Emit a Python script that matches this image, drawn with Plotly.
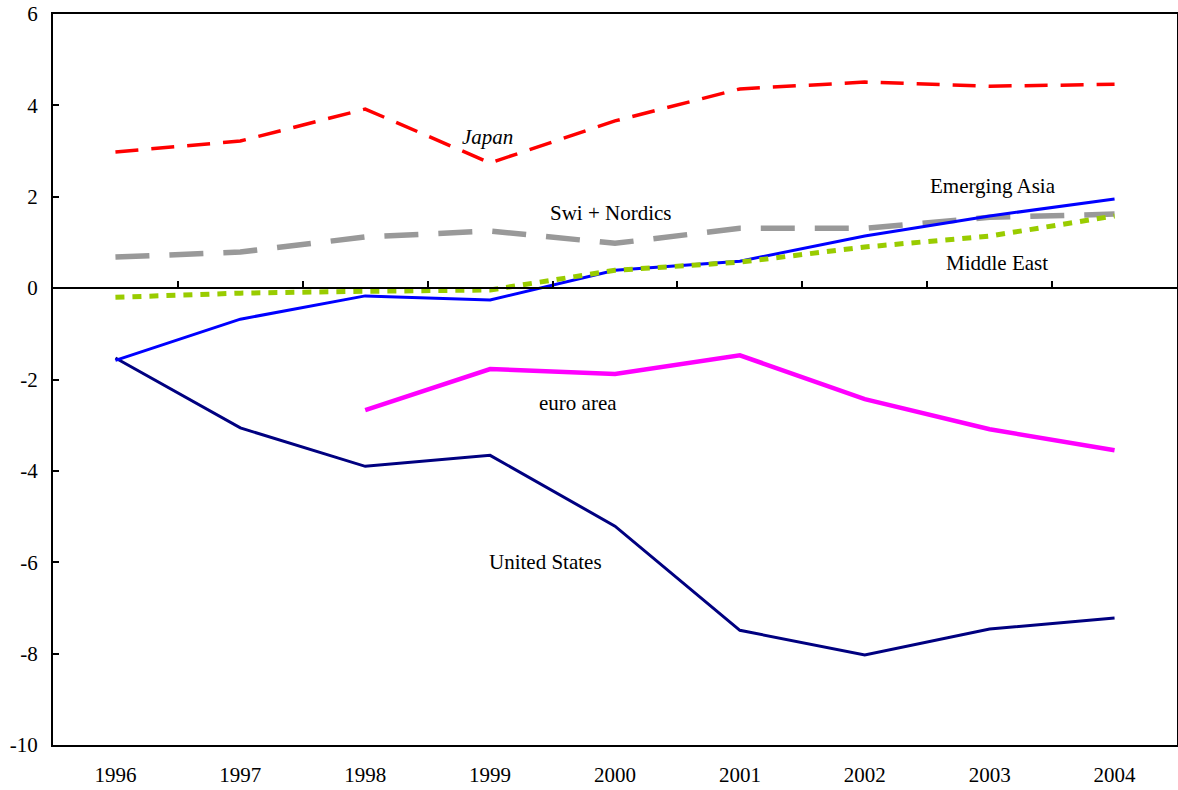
import plotly.graph_objects as go

YEARS = ["1996", "1997", "1998", "1999", "2000", "2001", "2002", "2003", "2004"]
JAPAN = [2.98, 3.22, 3.92, 2.74, 3.66, 4.36, 4.51, 4.42, 4.46]
SWI_NORDICS = [0.68, 0.79, 1.12, 1.25, 0.98, 1.31, 1.31, 1.55, 1.62]
MIDDLE_EAST = [-0.20, -0.11, -0.07, -0.04, 0.39, 0.57, 0.90, 1.14, 1.58]
EMERGING_ASIA = [-1.58, -0.68, -0.17, -0.26, 0.39, 0.59, 1.14, 1.58, 1.95]
EURO_AREA = [None, None, -2.67, -1.77, -1.88, -1.47, -2.43, -3.09, -3.55]
UNITED_STATES = [-1.53, -3.06, -3.90, -3.66, -5.21, -7.49, -8.03, -7.46, -7.22]
Y_TICKS = [-10, -8, -6, -4, -2, 0, 2, 4, 6]
Y_TICK_TEXT = ["-10", "-8", "-6", "-4", "-2", "0", "2", "4", "6"]

FONT = "Liberation Serif, Times New Roman, serif"
xs = list(range(len(YEARS)))

fig = go.Figure()


def add_line(y, color, width, dash="solid", name=""):
    fig.add_trace(go.Scatter(
        x=xs, y=y, mode="lines", name=name,
        line=dict(color=color, width=width, dash=dash),
        connectgaps=False, showlegend=False,
    ))


add_line(UNITED_STATES, "#000080", 3, name="United States")
add_line(EURO_AREA, "#ff00ff", 4.5, name="euro area")
add_line(JAPAN, "#ff0000", 3.5, dash="23px,13px", name="Japan")
add_line(SWI_NORDICS, "#999999", 5.5, dash="34px,20px", name="Swi + Nordics")
add_line(EMERGING_ASIA, "#0000ff", 3, name="Emerging Asia")
add_line(MIDDLE_EAST, "#99cc00", 5, dash="9px,8px", name="Middle East")

# dummy trace so the zero-crossing category axis gets drawn
fig.add_trace(go.Scatter(x=[None], y=[None], xaxis="x2", showlegend=False,
                         hoverinfo="skip"))

labels = [
    ("<i>Japan</i>", 2.98, 3.30),
    ("Swi + Nordics", 3.97, 1.64),
    ("Emerging Asia", 7.03, 2.23),
    ("Middle East", 7.06, 0.55),
    ("euro area", 3.70, -2.52),
    ("United States", 3.44, -6.0),
]
for text, x, y in labels:
    fig.add_annotation(x=x, y=y, text=text, showarrow=False,
                       font=dict(family=FONT, size=21, color="black"))

fig.update_layout(
    width=1178, height=790,
    paper_bgcolor="white", plot_bgcolor="white",
    margin=dict(l=53, r=1, t=14, b=45),
    font=dict(family=FONT, size=21, color="black"),
    xaxis=dict(
        range=[-0.5, 8.5], tickvals=xs, ticktext=YEARS, automargin=False,
        showline=True, linecolor="black", linewidth=2, mirror=True,
        showgrid=False, zeroline=False, ticks="", ticklabelstandoff=10,
    ),
    xaxis2=dict(
        overlaying="x", anchor="free", position=0.625, side="bottom",
        range=[-0.5, 8.5], tickvals=[i + 0.5 for i in xs[:-1]],
        showticklabels=False, ticks="inside", ticklen=6, tickwidth=1.5,
        tickcolor="black", showline=True, linecolor="black", linewidth=2,
        showgrid=False, zeroline=False, automargin=False,
    ),
    yaxis=dict(
        range=[-10, 6], tickvals=Y_TICKS, ticktext=Y_TICK_TEXT,
        showline=True, linecolor="black", linewidth=2, mirror=True,
        ticks="inside", ticklen=6, tickwidth=1.5, tickcolor="black",
        showgrid=False, zeroline=False, ticklabelstandoff=9,
        automargin=False,
    ),
)

# the page's default body margin would shift the fixed-size figure
fig.write_html("out.html", config={"displayModeBar": False},
               post_script="document.body.style.margin='0';"
                           "document.body.style.overflow='hidden';")
